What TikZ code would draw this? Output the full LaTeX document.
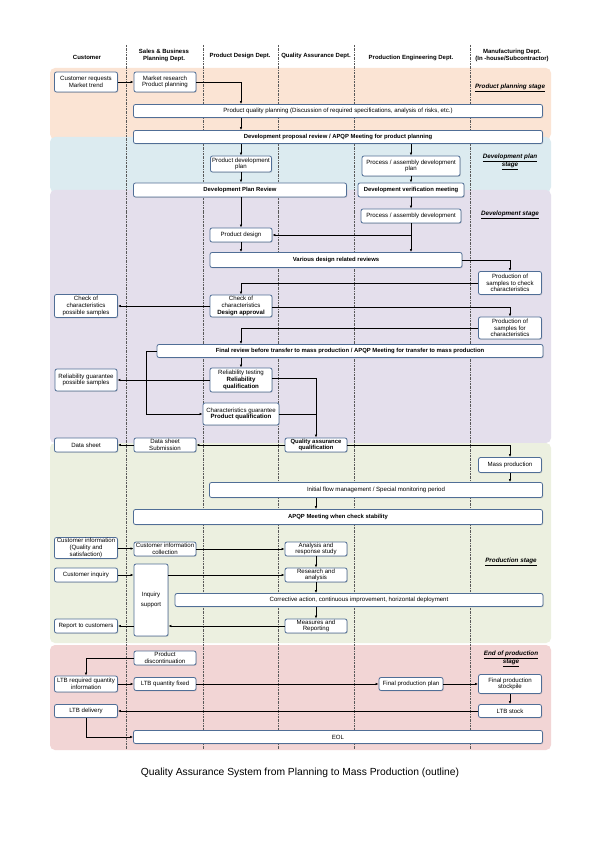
\documentclass[tikz,border=0pt]{standalone}
\usepackage{fontspec}
\setmainfont{Liberation Sans}
\usetikzlibrary{shadows,arrows.meta}
\definecolor{bord}{RGB}{80,110,150}
\definecolor{bplan}{RGB}{251,228,212}
\definecolor{bdplan}{RGB}{220,235,240}
\definecolor{bdev}{RGB}{228,223,236}
\definecolor{bprod}{RGB}{236,240,224}
\definecolor{beol}{RGB}{242,213,213}
\begin{document}
\begin{tikzpicture}[x=1pt,y=-1pt,
 box/.style={draw=bord,line width=0.8pt,fill=white,rounded corners=2pt,align=center,inner sep=0pt,
   font=\fontsize{6.1}{6.6}\selectfont,drop shadow={opacity=0.25,shadow xshift=0.8pt,shadow yshift=-0.8pt}},
 bb/.style={font=\fontsize{5.9}{6.6}\selectfont\bfseries},
 ar/.style={-{Latex[length=3pt,width=2.5pt]},line width=0.7pt},
 ln/.style={line width=0.7pt},
 hd/.style={font=\fontsize{6}{7}\selectfont\bfseries,align=center},
 st/.style={font=\fontsize{6.3}{7.5}\selectfont\bfseries\itshape,align=center},
 div/.style={gray!70!black,line width=0.6pt,dash pattern=on 2pt off 1pt on 0.5pt off 1pt},
 band/.style={rounded corners=5pt}]
\fill[white] (0,0) rectangle (600,850);
\useasboundingbox (0,0) rectangle (600,850);
% bands
\fill[bplan,band] (50,68) rectangle (551,139);
\fill[bdplan,band] (50,137) rectangle (551,192);
\fill[bdev,band] (50,190) rectangle (551,443);
\fill[bprod,band] (50,443) rectangle (551,643);
\fill[beol,band] (50,645) rectangle (551,750);
% dividers
\foreach \x in {126,203,278,354,470} \draw[div] (\x,45) -- (\x,750);
% headers
\node[hd] (h1) at (87,57) {Customer};
\node[hd] (h2) at (164,55) {Sales \& Business\\Planning Dept.};
\node[hd] (h3) at (240,56) {Product Design Dept.};
\node[hd] (h4) at (316,56) {Quality Assurance Dept.};
\node[hd] (h5) at (411,58) {Production Engineering Dept.};
\node[hd] (h6) at (512,55) {Manufacturing Dept.\\(In -house/Subcontractor)};
% stage labels
\node[st] (s1) at (510,88) {\underline{Product planning stage}};
\node[st] (s2) at (510,162) {\underline{Development plan}\\\underline{stage}};
\node[st] (s3) at (510,215) {\underline{Development stage}};
\node[st] (s4) at (511,562) {\underline{Production stage}};
\node[st] (s5) at (511,659) {\underline{End of production}\\\underline{stage}};
% nodes
\node[box,minimum width=63,minimum height=20] (custreq) at (86,82) {Customer requests\\Market trend};
\node[box,minimum width=62,minimum height=20] (market) at (165,82) {Market research\\Product planning};
\node[box,minimum width=409,minimum height=13] (pqp) at (338,111) {Product quality planning (Discussion of required specifications, analysis of risks, etc.)};
\node[box,bb,minimum width=409,minimum height=13] (devprop) at (338,137) {Development proposal review / APQP Meeting for product planning};
\node[box,minimum width=61,minimum height=16] (pdplan) at (241,164) {Product development\\plan};
\node[box,minimum width=98,minimum height=20] (padplan) at (411,166) {Process / assembly development\\plan};
\node[box,bb,minimum width=213,minimum height=14] (dpreview) at (240,190) {Development Plan Review};
\node[box,bb,minimum width=106,minimum height=14] (dvm) at (411,190) {Development verification meeting};
\node[box,minimum width=100,minimum height=14] (paddev) at (411,216) {Process / assembly development};
\node[box,minimum width=62,minimum height=14] (pdesign) at (241,235) {Product design};
\node[box,bb,minimum width=252,minimum height=15] (various) at (336,260) {Various design related reviews};
\node[box,minimum width=63,minimum height=23] (sampchk) at (510,283) {Production of\\samples to check\\characteristics};
\node[box,minimum width=62,minimum height=22] (approval) at (241,306) {Check of\\characteristics\\\textbf{Design approval}};
\node[box,minimum width=63,minimum height=23] (chkposs) at (86,306) {Check of\\characteristics\\possible samples};
\node[box,minimum width=63,minimum height=22] (sampchar) at (510,328) {Production of\\samples for\\characteristics};
\node[box,bb,minimum width=386,minimum height=13] (final) at (350,351) {Final review before transfer to mass production / APQP Meeting for transfer to mass production};
\node[box,minimum width=62,minimum height=24] (reltest) at (241,380) {Reliability testing\\\textbf{Reliability}\\\textbf{qualification}};
\node[box,minimum width=62,minimum height=22] (relposs) at (86,380) {Reliability guarantee\\possible samples};
\node[box,minimum width=76,minimum height=22] (charg) at (241,414) {Characteristics guarantee\\\textbf{Product qualification}};
\node[box,bb,minimum width=62,minimum height=14] (qaq) at (316,445) {Quality assurance\\qualification};
\node[box,minimum width=62,minimum height=14] (dss) at (165,445) {Data sheet\\Submission};
\node[box,minimum width=63,minimum height=14] (ds) at (86,445) {Data sheet};
\node[box,minimum width=63,minimum height=15] (mass) at (510,465) {Mass production};
\node[box,minimum width=333,minimum height=15] (initial) at (376,490) {Initial flow management / Special monitoring period};
\node[box,bb,minimum width=409,minimum height=15] (stab) at (338,517) {APQP Meeting when check stability};
\node[box,minimum width=63,minimum height=21] (cinfo) at (86,548) {Customer information\\(Quality and\\satisfaction)};
\node[box,minimum width=62,minimum height=14] (cicoll) at (165,549) {Customer information\\collection};
\node[box,minimum width=62,minimum height=14] (anal) at (316,549) {Analysis and\\response study};
\node[box,minimum width=63,minimum height=14] (cinq) at (86,575) {Customer inquiry};
\node[box,minimum width=34,minimum height=72] (isup) at (151,600) {Inquiry\\[3pt]support};
\node[box,minimum width=62,minimum height=14] (research) at (316,575) {Research and\\analysis};
\node[box,minimum width=368,minimum height=13] (corr) at (359,600) {Corrective action, continuous improvement, horizontal deployment};
\node[box,minimum width=62,minimum height=14] (meas) at (316,626) {Measures and\\Reporting};
\node[box,minimum width=63,minimum height=14] (report) at (86,626) {Report to customers};
\node[box,minimum width=62,minimum height=14] (disc) at (165,658) {Product\\discontinuation};
\node[box,minimum width=63,minimum height=16] (ltbreq) at (86,684) {LTB required quantity\\information};
\node[box,minimum width=62,minimum height=13] (ltbfix) at (165,684) {LTB quantity fixed};
\node[box,minimum width=64,minimum height=13] (fpp) at (411,684) {Final production plan};
\node[box,minimum width=63,minimum height=19] (stock) at (510,684) {Final production\\stockpile};
\node[box,minimum width=63,minimum height=13] (ltbstock) at (510,711) {LTB stock};
\node[box,minimum width=63,minimum height=13] (ltbdel) at (86,711) {LTB delivery};
\node[box,minimum width=409,minimum height=13] (eol) at (338,737) {EOL};
\node[font=\fontsize{10.3}{12}\selectfont] (cap) at (300,773) {Quality Assurance System from Planning to Mass Production (outline)};
% connectors
\draw[ar] (custreq) -- (market);
\draw[ar] (market.east) -| (pqp.north -| pdplan);
\draw[ar] (pqp.south -| pdplan) -- (devprop.north -| pdplan);
\draw[ar] (devprop.south -| pdplan) -- (pdplan);
\draw[ar] (devprop.south -| padplan) -- (padplan);
\draw[ar] (pdplan) -- (dpreview.north -| pdplan);
\draw[ar] (padplan) -- (dvm);
\draw[ar] (dpreview.south -| pdplan) -- (pdesign);
\draw[ar] (dvm) -- (paddev);
\coordinate (j1) at (411,235);
\draw[ln] (paddev) -- (j1);
\draw[ar] (j1) -- (pdesign.east);
\draw[ar] (j1) -- (various.north -| j1);
\draw[ar] (pdesign) -- (various.north -| pdesign);
\draw[ar] (various.east) -| (sampchk.north);
\draw[ar] (sampchk.west) -| (approval.north);
\draw[ar] (approval) -- (chkposs);
\draw[ar] ([yshift=-1pt]approval.east) -| (sampchar.north);
\draw[ar] (sampchar.west) -| (final.north -| approval);
\draw[ar] (final.south -| reltest) -- (reltest);
\coordinate (j2) at (146,414);
\draw[ar] (final.west) -| (j2) -- (charg.west);
\draw[ar] (reltest) -- (relposs);
\coordinate (j3) at (316,414);
\draw[ar] ([yshift=2pt]reltest.east) -| (qaq.north);
\draw[ln] (charg.east) -- (j3);
\draw[ar] (qaq) -- (dss);
\draw[ar] (dss) -- (ds);
\draw[ar] (qaq.east) -| (mass.north);
\draw[ar] (mass) -- (initial.north -| mass);
\draw[ar] (initial.south -| anal) -- (stab.north -| anal);
\draw[ar] (cinfo) -- (cicoll);
\draw[ar] (cicoll) -- (anal);
\draw[ar] (anal) -- (research);
\draw[ar] (cinq) -- (cinq.east -| isup.west);
\draw[ar] (cinq.east -| isup.east) -- (research.west);
\draw[ar] (research) -- (corr.north -| research);
\draw[ar] (corr.south -| meas) -- (meas);
\draw[ar] (meas) -- (meas.west -| isup.east);
\draw[ar] (report.east -| isup.west) -- (report);
\draw[ar] (disc.west) -| (ltbreq.north);
\draw[ar] (ltbreq) -- (ltbfix);
\draw[ar] (ltbfix) -- (fpp);
\draw[ar] (fpp) -- (stock);
\draw[ar] (stock) -- (ltbstock);
\draw[ar] (ltbstock) -- (ltbdel);
\draw[ar] (ltbdel.south) |- (eol.west);
\end{tikzpicture}
\end{document}
